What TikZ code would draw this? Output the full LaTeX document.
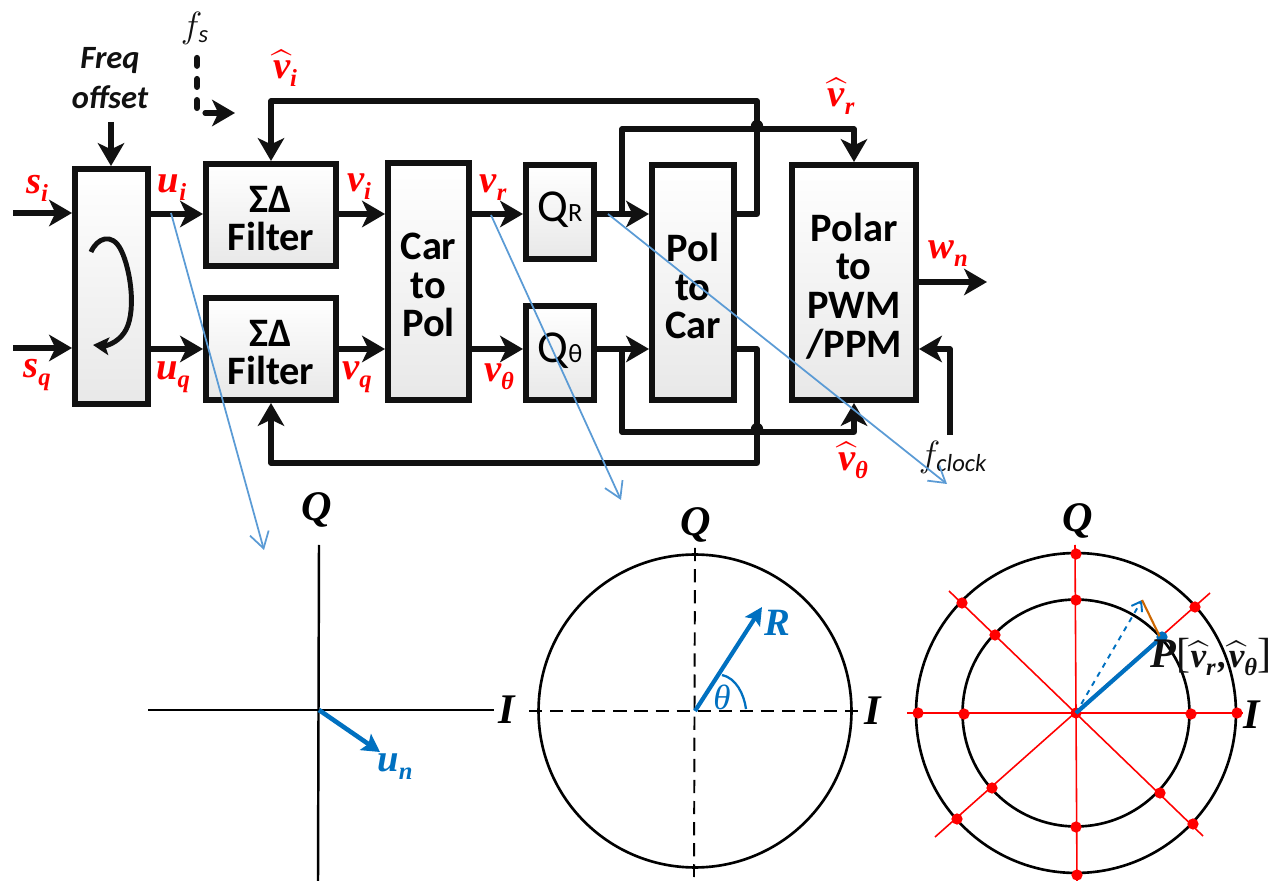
\documentclass[tikz,border=0pt]{standalone}
\usepackage{amsmath}
\usepackage{fontspec}
\setmainfont{Carlito}
\newfontfamily\capfont{Liberation Serif}[BoldItalicFont={Liberation Serif Bold Italic}]
\usetikzlibrary{arrows.meta}
\definecolor{sigblue}{HTML}{0070C0}
\definecolor{pointerblue}{HTML}{5B9BD5}
\definecolor{wirekey}{HTML}{111111}
\newcommand{\sigsub}[2]{#1\raisebox{-4.5pt}{\fontsize{14}{15}\selectfont #2}}
\newcommand{\sighat}[2]{$\widehat{\text{#1}}$\raisebox{-4.5pt}{\fontsize{14}{15}\selectfont #2}}
\tikzset{
  block/.style={draw=wirekey,line width=3.4pt,top color=white,bottom color=black!9,inner sep=0pt},
  blocktext/.style={align=center,inner sep=0pt,text=black,yshift=-2pt,font=\fontsize{23}{22}\selectfont\bfseries},
  quanttext/.style={inner sep=0pt,text=black,yshift=1.5pt,font=\fontsize{26}{28}\selectfont},
  wire/.style={draw=wirekey,line width=2.9pt,line join=round},
  tipwire/.style={wire,-{Stealth[length=13pt,width=15pt,inset=3.5pt]}},
  siglabel/.style={text=red,font=\fontsize{22}{24}\selectfont\capfont\bfseries\itshape,inner sep=0pt},
  keylabel/.style={text=wirekey,inner sep=0pt},
  axislabel/.style={text=black,font=\fontsize{24}{26}\selectfont\capfont\bfseries\itshape,inner sep=0pt},
  bluelabel/.style={text=sigblue,font=\fontsize{22}{24}\selectfont\capfont\bfseries\itshape,inner sep=0pt},
  pointer/.style={draw=pointerblue,line width=1pt,-{Straight Barb[length=9pt,width=11pt]}},
  reddot/.style={fill=red,draw=none},
}
\begin{document}
\begin{tikzpicture}[x=0.02cm,y=-0.02cm]
    \useasboundingbox (0,0) rectangle (1282,881);
    % signal rows
    \coordinate (rowI) at (0,214);
    \coordinate (rowQ) at (0,349);
    % blocks
    \node[block,minimum width=73*0.02cm,minimum height=235*0.02cm] (rot) at (111.5,286.5) {};
    \node[block,minimum width=130*0.02cm,minimum height=102*0.02cm] (filterI) at (271,215) {};
    \node[block,minimum width=130*0.02cm,minimum height=102*0.02cm] (filterQ) at (271,349) {};
    \node[block,minimum width=81*0.02cm,minimum height=237*0.02cm] (carpol) at (428.5,281.5) {};
    \node[block,minimum width=68*0.02cm,minimum height=94*0.02cm] (quantR) at (560,212) {};
    \node[block,minimum width=68*0.02cm,minimum height=94*0.02cm] (quantT) at (560,353) {};
    \node[block,minimum width=82*0.02cm,minimum height=235*0.02cm] (polcar) at (693,282.5) {};
    \node[block,minimum width=124*0.02cm,minimum height=235*0.02cm] (polarpwm) at (854,282.5) {};
    \node[blocktext] (filterItext) at (filterI) {ΣΔ\\Filter};
    \node[blocktext] (filterQtext) at (filterQ) {ΣΔ\\Filter};
    \node[blocktext] (carpoltext) at (carpol) {Car\\to\\Pol};
    \node[quanttext] (quantRtext) at (quantR) {Q{\fontsize{15}{16}\selectfont R}};
    \node[quanttext] (quantTtext) at (quantT) {Q{\fontsize{15}{16}\selectfont θ}};
    \node[blocktext] (polcartext) at (polcar) {Pol\\to\\Car};
    \node[blocktext] (polarpwmtext) at (polarpwm) {Polar\\to\\PWM\\/PPM};
    % rotation sign
    \draw[wirekey,line width=2.8pt,-{Stealth[length=9pt,width=10pt,inset=2pt]}] (91,252) .. controls (97,238) and (112,232) .. (121,250) .. controls (131,270) and (137,315) .. (124,333) .. controls (117,343) and (106,346) .. (93,345);
    % free ends
    \coordinate (inI) at (13,213);
    \coordinate (inQ) at (13,348);
    \coordinate (freqin) at (111,122);
    \coordinate (fsdown) at (197,58);
    \coordinate (fsbend) at (197,110);
    \coordinate (fsfrom) at (205,113);
    \coordinate (fsto) at (235,113);
    \coordinate (wout) at (987,282);
    \coordinate (clockin) at (950,435);
    \coordinate (clockbend) at (950,349);
    \coordinate (feedI) at (757,101);
    \coordinate (feedQ) at (757,463);
    \coordinate (tapR) at (622,214);
    \coordinate (tapT) at (622,349);
    \coordinate (hatR) at (622,129);
    \coordinate (hatT) at (622,432);
    \coordinate (dotR) at (757,126);
    \coordinate (dotT) at (757,429);
    % wires
    \draw[tipwire] (inI) -- (rot.west |- inI);
    \draw[tipwire] (inQ) -- (rot.west |- inQ);
    \draw[tipwire] (freqin) -- (rot.north -| freqin);
    \draw[tipwire] (rot.east |- rowI) -- (filterI.west |- rowI);
    \draw[tipwire] (rot.east |- rowQ) -- (filterQ.west |- rowQ);
    \draw[tipwire] (filterI.east |- rowI) -- (carpol.west |- rowI);
    \draw[tipwire] (filterQ.east |- rowQ) -- (carpol.west |- rowQ);
    \draw[tipwire] (carpol.east |- rowI) -- (quantR.west |- rowI);
    \draw[tipwire] (carpol.east |- rowQ) -- (quantT.west |- rowQ);
    \draw[tipwire] (quantR.east |- rowI) -- (polcar.west |- rowI);
    \draw[tipwire] (quantT.east |- rowQ) -- (polcar.west |- rowQ);
    \draw[tipwire] (polarpwm.east |- wout) -- (wout);
    \draw[tipwire] (clockin) -- (clockbend) -- (polarpwm.east |- clockbend);
    \draw[tipwire] (polcar.east |- rowI) -- (feedI |- rowI) -- (feedI) -- (filterI.north |- feedI) -- (filterI.north);
    \draw[tipwire] (polcar.east |- rowQ) -- (feedQ |- rowQ) -- (feedQ) -- (filterQ.south |- feedQ) -- (filterQ.south);
    \draw[tipwire] (tapR) -- (hatR) -- (polarpwm.north |- hatR) -- (polarpwm.north);
    \draw[tipwire] (tapT) -- (hatT) -- (polarpwm.south |- hatT) -- (polarpwm.south);
    \fill[wirekey] (dotR) circle[radius=3.5pt];
    \fill[wirekey] (dotT) circle[radius=3.5pt];
    \draw[wire,line width=3.6pt,line cap=round,dash pattern=on 4.4pt off 7.6pt] (fsdown) -- (fsbend);
    \draw[tipwire,line cap=round] (fsfrom) -- (fsto);
    % labels of the block diagram
    \node[siglabel] (lsi) at (37,188) {\sigsub{s}{i}};
    \node[siglabel] (lsq) at (37,375) {\sigsub{s}{q}};
    \node[siglabel] (lui) at (172,188) {\sigsub{u}{i}};
    \node[siglabel] (luq) at (173,377) {\sigsub{u}{q}};
    \node[siglabel] (lvi) at (359,187) {\sigsub{v}{i}};
    \node[siglabel] (lvq) at (357,377) {\sigsub{v}{q}};
    \node[siglabel] (lvr) at (493,188) {\sigsub{v}{r}};
    \node[siglabel] (lvt) at (499,377) {\sigsub{v}{θ}};
    \node[siglabel] (lhi) at (285,68) {\sighat{v}{i}};
    \node[siglabel] (lhr) at (841,96) {\sighat{v}{r}};
    \node[siglabel] (lht) at (853,460) {\sighat{v}{θ}};
    \node[siglabel] (lwn) at (948,254) {\sigsub{w}{n}};
    \node[keylabel,font=\fontsize{18.5}{23}\selectfont\bfseries\itshape,align=center] (lfreq) at (110,78) {Freq\\offset};
    \node[keylabel,font=\fontsize{20}{24}\selectfont] (lfs) at (195,28) {$f_{\textit{s}}$};
    \node[keylabel,font=\fontsize{20}{24}\selectfont] (lclock) at (953,457) {$f_{\textit{clock}}$};
    % I-Q plane
    \coordinate (planeC) at (319,710);
    \draw[black,line width=1.4pt] (319,545) -- (318,881);
    \draw[black,line width=1.4pt] (148,710) -- (494,710);
    \draw[sigblue,line width=2.6pt,-{Stealth[length=10pt,width=11pt,inset=2pt]}] (planeC) -- (380,752);
    \node[axislabel] (planeQ) at (317,510) {Q};
    \node[axislabel] (planeI) at (507,710) {I};
    \node[bluelabel] (planeU) at (395,767) {\sigsub{u}{n}};
    % polar circle
    \coordinate (polarC) at (695,711);
    \draw[black,line width=1.5pt] (polarC) circle[radius=3.13cm];
    \draw[black,line width=1.1pt,dash pattern=on 7.5pt off 4.5pt] (695,548) -- (694,877);
    \draw[black,line width=1.1pt,dash pattern=on 7.5pt off 4.5pt] (529,711) -- (859,711);
    \draw[sigblue,line width=2.4pt,-{Stealth[length=10pt,width=10pt,inset=2pt]}] (polarC) -- (762,607);
    \draw[sigblue,line width=1.3pt] (746,709) .. controls (744,694) and (736,678) .. (722,675);
    \node[axislabel] (polarQ) at (696,525) {Q};
    \node[axislabel] (polarI) at (873,711) {I};
    \node[bluelabel] (polarR) at (777,623) {R};
    \node[bluelabel,font=\fontsize{20}{24}\selectfont\capfont\itshape] (polarT) at (722,697) {θ};
    % constellation
    \coordinate (constC) at (1076,713);
    \draw[red,line width=0.9pt] (1075,545) -- (1077,881);
    \draw[red,line width=0.9pt] (907,713) -- (1243,713);
    \draw[red,line width=0.9pt] (949,591) -- (1203,836);
    \draw[red,line width=0.9pt] (935,837) -- (1210,593);
    \draw[black,line width=1.5pt] (constC) circle[radius=3.2cm];
    \draw[black,line width=1.5pt] (constC) circle[radius=2.27cm];
    \foreach \px/\py in {1076/554,1195/607,1237/713,1193/824,1077/875,957/819,918/713,962/603,
                         1076/600,1191/714,1160/793,1076/827,992/788,964/714,995/635,1076/713}{
      \fill[reddot] (\px,\py) circle[radius=3.2pt];
    }
    \coordinate (constP) at (1162,637);
    \coordinate (constD) at (1142,600);
    \fill[sigblue] (constP) circle[radius=3.2pt];
    \draw[sigblue,line width=1.1pt,dashed,-{Straight Barb[length=5pt,width=7pt]}] (constC) -- (constD);
    \draw[orange!80!black,line width=1.2pt] (constD) -- (1160,637);
    \draw[sigblue,line width=2.4pt] (constC) -- (constP);
    \node[axislabel] (constQ) at (1078,521) {Q};
    \node[axislabel] (constI) at (1252,715) {I};
    \node[keylabel,font=\fontsize{20}{24}\selectfont\capfont\bfseries\itshape] (constL) at (1211,657) {{\fontsize{24}{26}\selectfont P}{\fontsize{24}{26}\selectfont\mdseries\upshape [}\sighat{v}{r}\kern1.5pt,\kern1pt\sighat{v}{θ}{\fontsize{24}{26}\selectfont\mdseries\upshape ]}};
    % pointers
    \coordinate (ptrA) at (171,213);
    \coordinate (ptrB) at (264,550);
    \coordinate (ptrC) at (491,215);
    \coordinate (ptrD) at (621,500);
    \coordinate (ptrE) at (608,214);
    \coordinate (ptrF) at (947,484);
    \draw[pointer] (ptrA) -- (ptrB);
    \draw[pointer] (ptrC) -- (ptrD);
    \draw[pointer] (ptrE) -- (ptrF);
\end{tikzpicture}
\end{document}
